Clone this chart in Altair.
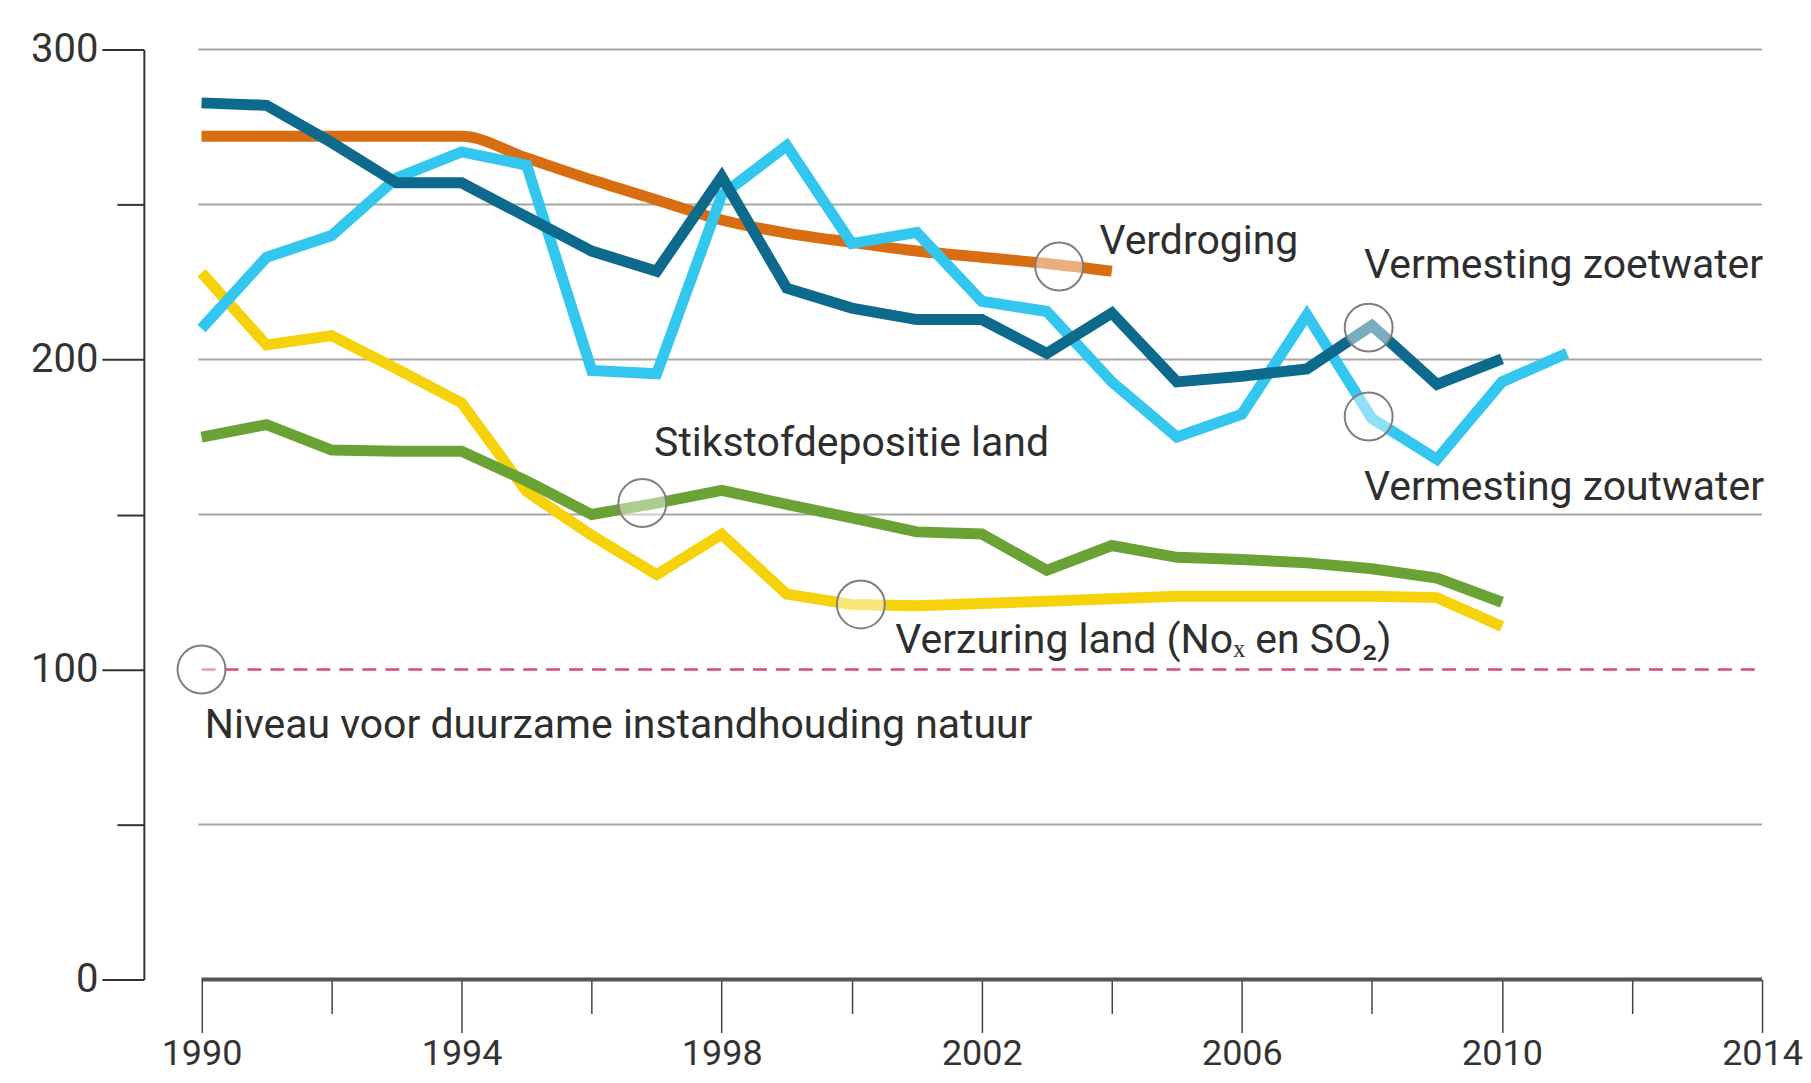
import altair as alt
import pandas as pd

years = list(range(1990, 2012))

verdroging = [272, 272, 272, 272, 272, 265, 258, 251.5, 245, 240.8, 237.8, 235, 233, 231, 228.5]
zoetwater = [282.8, 282, 270, 257, 257, 246, 235, 228.5, 259, 223, 216.6, 212.9, 212.9, 202,
             215, 192.8, 194.6, 197, 211, 192, 200.2]
zoutwater = [210, 233, 240, 258.6, 267, 262.7, 196.5, 195.4, 253, 269, 237.4, 241, 218.8, 215.5,
             192.8, 175, 182.4, 214.4, 181, 167.8, 192.8, 202]
verzuring = [228, 204.7, 207.7, 197, 186, 157.4, 143.3, 130.6, 143.6, 124.3, 121, 120.6, 121.3,
             122, 122.8, 123.6, 123.6, 123.6, 123.6, 123.2, 113.9]
stikstof = [175, 179, 170.8, 170.4, 170.4, 160.8, 150, 153.7, 157.8, 153.3, 148.9, 144.4, 143.7,
            132, 140, 136.2, 135.5, 134.4, 132.5, 129.5, 121.7]

norm_value = 100
grid_values = [50, 150, 200, 250, 300]
x_ticks = list(range(1990, 2015, 2))
y_ticks = list(range(0, 301, 50))

label_texts = ["Verdroging", "Vermesting zoetwater", "Vermesting zoutwater",
               "Stikstofdepositie land", "Verzuring land (Noₓ en SO₂)",
               "Niveau voor duurzame instandhouding natuur"]
label_x = [2003.81, 2007.88, 2007.88, 1996.96, 2000.67, 1990.05]
label_y = [237.8, 230.2, 158.4, 172.9, 109.2, 81.7]

circle_x = [1990, 1996.78, 2000.14, 2003.19, 2007.95, 2007.95]
circle_y = [100, 153.7, 121, 230, 210.3, 181.6]

FONT = "Roboto"
X_DOMAIN = [1989.113, 2014]
Y_DOMAIN = [0, 300]

xs = alt.Scale(domain=X_DOMAIN, nice=False, zero=False)
ys = alt.Scale(domain=Y_DOMAIN, nice=False)

x_axis = alt.Axis(
    values=x_ticks,
    tickSize={"condition": {"test": "(datum.value - 1990) % 4 === 2", "value": 34}, "value": 53},
    labelExpr="(datum.value - 1990) % 4 === 2 ? '' : datum.value",
    domain=False, grid=False, tickColor="#444", tickWidth=1.5,
    labelFont=FONT, labelFontSize=36, labelColor="#333", labelPadding=4, title=None,
    labelFlush=False, labelOverlap=False,
)
y_axis = alt.Axis(
    values=y_ticks,
    tickSize={"condition": {"test": "datum.value % 100 === 0", "value": 42}, "value": 27},
    labelExpr="datum.value % 100 === 0 ? datum.value : ''",
    domain=True, domainColor="#333", domainWidth=2, grid=False, tickColor="#333", tickWidth=2,
    labelFont=FONT, labelFontSize=40, labelColor="#333", labelPadding=4, title=None,
    labelFlush=False, labelOverlap=False,
)


def X(field):
    return alt.X(field, scale=xs, axis=x_axis, title=None)


def Y(field):
    return alt.Y(field, scale=ys, axis=y_axis, title=None)


grid_df = pd.DataFrame({"v": grid_values, "x1": 1989.95, "x2": 2014})
grid = alt.Chart(grid_df).mark_rule(color="#a6a6a6", strokeWidth=2).encode(
    x=X("x1:Q"), x2="x2:Q", y=Y("v:Q"),
)

xline_df = pd.DataFrame({"v": [0], "x1": 1990, "x2": 2014})
xline = alt.Chart(xline_df).mark_rule(color="#555", strokeWidth=4).encode(
    x=X("x1:Q"), x2="x2:Q", y=Y("v:Q"),
)

norm_df = pd.DataFrame({"v": [norm_value], "x1": 1990, "x2": 2014})
norm = alt.Chart(norm_df).mark_rule(color="#d9487f", strokeWidth=2.5, strokeDash=[14, 9]).encode(
    x=X("x1:Q"), x2="x2:Q", y=Y("v:Q"),
)


def series_layer(values, color, interp="linear"):
    df = pd.DataFrame({"year": years[:len(values)], "value": values})
    return alt.Chart(df).mark_line(color=color, strokeWidth=11, interpolate=interp,
                                   strokeJoin="miter", strokeCap="butt").encode(
        x=X("year:Q"), y=Y("value:Q"),
    )


lines = [
    series_layer(verzuring, "#f6d20a"),
    series_layer(stikstof, "#6ba236"),
    series_layer(verdroging, "#d96d12", "monotone"),
    series_layer(zoutwater, "#33c6ee"),
    series_layer(zoetwater, "#0d6a8c"),
]

circ_df = pd.DataFrame({"x": circle_x, "y": circle_y})
circles = alt.Chart(circ_df).mark_point(
    shape="circle", size=2300, filled=True, fill="white", fillOpacity=0.45,
    stroke="#7f7f7f", strokeWidth=2, strokeOpacity=1,
).encode(x=X("x:Q"), y=Y("y:Q"))

lab_df = pd.DataFrame({"t": label_texts, "x": label_x, "y": label_y})
labels = alt.Chart(lab_df).mark_text(
    align="left", baseline="middle", font=FONT, fontSize=41, color="#2e2e2e",
).encode(x=X("x:Q"), y=Y("y:Q"), text="t:N")

chart = alt.layer(grid, xline, norm, *lines, circles, labels).properties(
    width=1620, height=931,
    autosize=alt.AutoSizeParams(type="none"),
    padding={"left": 136, "top": 41, "right": 41, "bottom": 95},
    background="white",
).configure_view(stroke=None)

chart.save("out.html", embed_options={"renderer": "svg", "actions": False})
